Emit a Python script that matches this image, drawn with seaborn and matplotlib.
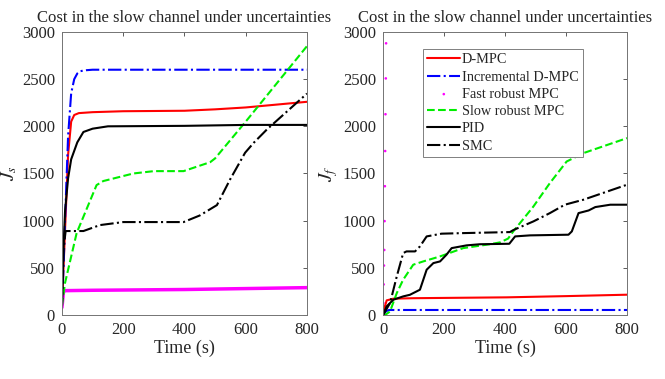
import numpy as np
import pandas as pd
import matplotlib
matplotlib.use("Agg")
import matplotlib.pyplot as plt
import seaborn as sns

# ---- slow channel (left panel) ----
t_dmpc_s = [0, 10, 20, 30, 40, 55, 100, 200, 400, 500, 600, 700, 800]
dmpc_s = [100, 900, 1700, 2050, 2120, 2140, 2150, 2160, 2165, 2180, 2200, 2230, 2260]

t_inc_s = [0, 5, 10, 20, 30, 40, 50, 60, 80, 100, 800]
inc_s = [100, 500, 1000, 1900, 2350, 2500, 2560, 2585, 2595, 2600, 2600]

t_fast_s = [0, 5, 10, 100, 400, 600, 800]
fast_s = [80, 250, 258, 262, 270, 280, 290]

t_slow_s = [0, 10, 48, 113, 135, 233, 300, 397, 484, 500, 600, 700, 800]
slow_s = [100, 340, 870, 1377, 1420, 1500, 1525, 1525, 1620, 1660, 2050, 2450, 2850]

t_pid_s = [0, 5, 10, 20, 30, 50, 70, 100, 150, 400, 600, 800]
pid_s = [100, 700, 1100, 1450, 1650, 1830, 1940, 1975, 2000, 2005, 2015, 2015]

t_smc_s = [0, 5, 12, 70, 124, 200, 397, 450, 506, 549, 598, 626, 669, 800]
smc_s = [100, 700, 890, 890, 953, 985, 985, 1055, 1165, 1437, 1720, 1825, 1966, 2347]

# ---- fast channel (right panel) ----
t_dmpc_f = [0, 5, 12, 34, 100, 405, 600, 800]
dmpc_f = [0, 80, 155, 173, 178, 187, 200, 215]

t_inc_f = [0, 10, 20, 800]
inc_f = [0, 40, 53, 53]

t_fast_f = [0, 1, 2, 3, 4, 5, 6, 7, 8, 9, 10]
fast_f = [40, 127, 324, 524, 689, 995, 1365, 1738, 2128, 2508, 2880]

t_slow_f = [0, 7, 23, 45, 66, 99, 132, 187, 263, 350, 384, 410, 427, 493, 547, 602, 657, 800]
slow_f = [0, 0, 38, 232, 374, 533, 568, 621, 709, 750, 770, 810, 886, 1150, 1398, 1627, 1716, 1875]

t_pid_f = [0, 12, 34, 66, 88, 110, 121, 132, 143, 165, 187, 208, 225, 274, 318, 414,
           433, 482, 608, 619, 641, 674, 696, 745, 800]
pid_f = [0, 92, 162, 197, 214, 250, 268, 374, 480, 550, 568, 639, 709, 738, 750, 755,
         833, 844, 851, 886, 1080, 1108, 1144, 1169, 1169]

t_smc_f = [0, 23, 45, 66, 77, 105, 121, 143, 192, 263, 416, 427, 493, 547, 596, 657, 800]
smc_f = [0, 126, 409, 656, 674, 674, 727, 833, 862, 868, 879, 900, 992, 1080, 1169, 1222, 1381]

x_ticks = [0, 200, 400, 600, 800]
y_ticks = [0, 500, 1000, 1500, 2000, 2500, 3000]
title = "Cost in the slow channel under uncertainties"

sns.set_style("white")
plt.rcParams["font.family"] = ["Liberation Serif", "DejaVu Serif"]
plt.rcParams["mathtext.fontset"] = "stix"

fig = plt.figure(figsize=(6.65, 3.79), dpi=100)
ax1 = fig.add_axes([0.0932, 0.1689, 0.3684, 0.7467])
ax2 = fig.add_axes([0.576, 0.1689, 0.3669, 0.7467])

lw = 1.5


def line(ax, t, v, color, ls, label=None, width=lw):
    sns.lineplot(x=t, y=v, ax=ax, color=color, linestyle=ls, linewidth=width,
                 label=label, sort=False, estimator=None, legend=False)


# left panel
line(ax1, t_dmpc_s, dmpc_s, "#ff0000", "-")
line(ax1, t_inc_s, inc_s, "#0000ff", "-.")
line(ax1, t_fast_s, fast_s, "#ff00ff", "-", width=2.5)
line(ax1, t_slow_s, slow_s, "#00ee00", "--")
line(ax1, t_pid_s, pid_s, "black", "-")
line(ax1, t_smc_s, smc_s, "black", "-.")

# right panel
line(ax2, t_dmpc_f, dmpc_f, "#ff0000", "-", "D-MPC")
line(ax2, t_inc_f, inc_f, "#0000ff", "-.", "Incremental D-MPC")
sns.scatterplot(x=t_fast_f, y=fast_f, ax=ax2, color="#ff00ff", marker=".", s=14,
                edgecolor="none", label="Fast robust MPC", legend=False)
line(ax2, t_slow_f, slow_f, "#00ee00", "--", "Slow robust MPC")
line(ax2, t_pid_f, pid_f, "black", "-", "PID")
line(ax2, t_smc_f, smc_f, "black", "-.", "SMC")

for ax, ylab in [(ax1, "$J_s$"), (ax2, "$J_f$")]:
    ax.set_xlim(0, 800)
    ax.set_ylim(0, 3000)
    ax.set_xticks(x_ticks)
    ax.set_yticks(y_ticks)
    ax.tick_params(direction="in", top=True, right=True, length=3, width=0.6,
                   labelsize=12, color="0.25", pad=5)
    for sp in ax.spines.values():
        sp.set_color("0.45")
        sp.set_linewidth(0.7)
    ax.set_xlabel("Time (s)", fontsize=13, labelpad=1)
    ax.set_ylabel(ylab, fontsize=14, labelpad=2)
    ax.set_title(title, fontsize=12, pad=7)

leg = ax2.legend(loc="upper left", bbox_to_anchor=(0.164, 0.94), fontsize=10.3,
                 frameon=True, fancybox=False, framealpha=1, edgecolor="0.5",
                 borderpad=0.3, labelspacing=0.3, handlelength=2.3,
                 handletextpad=0.1, borderaxespad=0)
leg.get_frame().set_linewidth(0.7)

fig.savefig("out.png", dpi=100)
